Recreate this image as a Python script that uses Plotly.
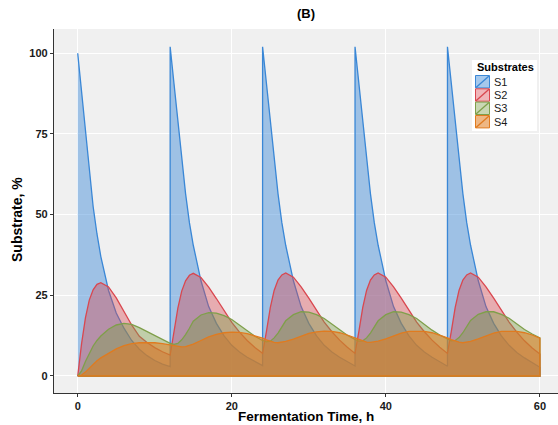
import plotly.graph_objects as go

# Time axis (h); pulse times appear twice (value just before and just after the feed pulse)
time_h = [
    0, 0.5, 1, 1.5, 2, 2.5, 3, 4, 5, 6, 7, 8, 9, 10, 11,
    12, 12, 12.5, 13, 13.5, 14, 14.5, 15, 16, 17, 18, 19, 20, 21, 22, 23,
    24, 24, 24.5, 25, 25.5, 26, 26.5, 27, 28, 29, 30, 31, 32, 33, 34, 35,
    36, 36, 36.5, 37, 37.5, 38, 38.5, 39, 40, 41, 42, 43, 44, 45, 46, 47,
    48, 48, 48.5, 49, 49.5, 50, 50.5, 51, 52, 53, 54, 55, 56, 57, 58, 59,
    60,
]

s1 = [
    100, 87.5, 75.5, 63.5, 52.5, 44, 37, 26.5, 19.5, 14.8, 11, 8.3, 6.3, 4.8, 3.7,
    2.9, 102, 90.5, 78.5, 67, 56.5, 47.5, 40.5, 29.5, 21.5, 16.3, 12.4, 9.5, 7.4, 5.8, 4.4,
    3.2, 102, 90.5, 78.5, 67, 56.5, 47.5, 40.5, 29.5, 21.5, 16.3, 12.4, 9.5, 7.4, 5.8, 4.4,
    3.1, 102, 90.5, 78.5, 67, 56.5, 47.5, 40.5, 29.5, 21.5, 16.3, 12.4, 9.5, 7.4, 5.8, 4.3,
    3.0, 102, 90.5, 78.5, 67, 56.5, 47.5, 40.5, 29.5, 21.5, 16.3, 12.4, 9.5, 7.3, 5.6, 4.1,
    2.7,
]

s2 = [
    0, 10, 18, 23.5, 26.7, 28.4, 28.9, 27.6, 24.2, 20.2, 15.8, 12.3, 10.4, 8.8, 7.5,
    6.5, 6.5, 13.5, 21, 26.3, 29.5, 31.2, 31.8, 30.5, 27.5, 24, 20.2, 16.6, 13.6, 11, 8.8,
    7.0, 7.0, 13.8, 21.2, 26.5, 29.7, 31.3, 31.9, 30.6, 27.6, 24.1, 20.3, 16.7, 13.7, 11.1, 8.9,
    7.0, 7.0, 13.8, 21.2, 26.5, 29.7, 31.3, 31.9, 30.6, 27.6, 24.1, 20.3, 16.7, 13.7, 11.1, 8.9,
    7.0, 7.0, 13.8, 21.2, 26.5, 29.7, 31.3, 31.9, 30.6, 27.6, 24.1, 20.3, 16.7, 13.6, 10.9, 8.7,
    6.8,
]

s3 = [
    0, 1.6, 4.5, 7, 9.3, 11, 12.4, 14.5, 15.8, 16.3, 16, 15, 13.8, 12.5, 11.2,
    10.1, 10.1, 9.8, 10.1, 11.2, 12.8, 14.8, 17, 18.9, 19.6, 19.5, 18.7, 17.5, 15.8, 13.9, 12.3,
    11.0, 11.0, 10.6, 10.8, 11.8, 13.3, 15.2, 17.1, 19, 19.9, 19.8, 19, 17.8, 16, 14.2, 12.6,
    11.3, 11.3, 10.8, 10.9, 11.8, 13.3, 15.2, 17.1, 19, 19.9, 19.8, 19, 17.8, 16, 14.2, 12.7,
    11.4, 11.4, 10.9, 11, 11.9, 13.4, 15.3, 17.2, 19.1, 19.9, 19.9, 19.1, 17.9, 16.2, 14.4, 13,
    11.8,
]

s4 = [
    0, 0.3, 1.2, 2.4, 3.6, 4.7, 5.6, 7.1, 8.4, 9.4, 10, 10.3, 10.4, 10.3, 10,
    9.6, 9.6, 9.3, 9.1, 9.0, 9.1, 9.4, 9.9, 11, 12.1, 12.9, 13.4, 13.6, 13.5, 13.1, 12.5,
    11.7, 11.7, 11.2, 10.7, 10.4, 10.3, 10.4, 10.7, 11.4, 12.4, 13.2, 13.7, 13.9, 13.8, 13.4, 12.7,
    11.8, 11.8, 11.3, 10.8, 10.5, 10.4, 10.5, 10.8, 11.5, 12.5, 13.3, 13.8, 13.9, 13.8, 13.4, 12.7,
    11.8, 11.8, 11.3, 10.8, 10.5, 10.3, 10.4, 10.7, 11.5, 12.5, 13.3, 13.8, 13.9, 13.8, 13.4, 12.7,
    11.7,
]

names = ["S1", "S2", "S3", "S4"]
series = [s1, s2, s3, s4]
line_colors = ["#3a87d6", "#d9474f", "#7f9f4a", "#e07b1f"]
fill_colors = ["rgba(58,135,214,0.45)", "rgba(217,71,79,0.40)",
               "rgba(127,159,74,0.42)", "rgba(224,123,31,0.55)"]

# figure geometry (pixels) used to place the ggplot-style legend inside the panel
W, H = 558, 425
ML, MR, MT, MB = 54, 0, 29, 32
PW, PH = W - ML - MR, H - MT - MB


def px_x(p):
    return (p - ML) / PW


def px_y(p):
    return (H - MB - p) / PH


fig = go.Figure()
for name, vals, lc, fc in zip(names, series, line_colors, fill_colors):
    xs = time_h + [time_h[-1], time_h[0]]
    ys = vals + [0, 0]
    fig.add_trace(go.Scatter(
        x=xs, y=ys, mode="lines", name=name, fill="toself", fillcolor=fc,
        line=dict(color=lc, width=1.3), hoverinfo="skip", showlegend=False,
    ))

FONT = "Liberation Sans, Arial, sans-serif"
bold = dict(family=FONT, size=11, color="#1a1a1a", weight="bold")
axis_common = dict(
    showgrid=True, gridcolor="#ffffff", gridwidth=1.2, zeroline=False,
    showline=True, linecolor="#333333", linewidth=1.2,
    ticks="outside", ticklen=3, tickcolor="#333333", tickwidth=1.2,
    tickfont=bold,
)

# custom legend (box, keys, labels)
shapes = [dict(type="rect", xref="paper", yref="paper",
               x0=px_x(472), x1=px_x(537), y0=px_y(131), y1=px_y(60),
               fillcolor="white", line=dict(width=0), layer="above")]
annotations = [dict(text="<b>Substrates</b>", x=px_x(474.5), y=px_y(67),
                    xref="paper", yref="paper", showarrow=False,
                    xanchor="left", yanchor="middle",
                    font=dict(family=FONT, size=11, color="black"))]
row_y = [81.7, 95, 108.3, 121.7]
for name, lc, fc, ry in zip(names, line_colors, fill_colors, row_y):
    shapes.append(dict(type="rect", xref="paper", yref="paper",
                       x0=px_x(475.5), x1=px_x(489.5), y0=px_y(ry + 6.2), y1=px_y(ry - 6.2),
                       fillcolor=fc, line=dict(color=lc, width=1), layer="above"))
    shapes.append(dict(type="line", xref="paper", yref="paper",
                       x0=px_x(476), x1=px_x(489), y0=px_y(ry + 5.7), y1=px_y(ry - 5.7),
                       line=dict(color=lc, width=1.3), layer="above"))
    annotations.append(dict(text=name, x=px_x(491.5), y=px_y(ry),
                            xref="paper", yref="paper", showarrow=False,
                            xanchor="left", yanchor="middle",
                            font=dict(family=FONT, size=11, color="#1a1a1a")))

annotations += [
    dict(text="<b>(B)</b>", x=0.5, y=px_y(14), xref="paper", yref="paper",
         showarrow=False, font=dict(family=FONT, size=13, color="black"),
         xanchor="center", yanchor="middle"),
    dict(text="<b>Fermentation Time, h</b>", x=0.5, y=px_y(416.5), xref="paper", yref="paper",
         showarrow=False, font=dict(family=FONT, size=13.5, color="black"),
         xanchor="center", yanchor="middle"),
    dict(text="<b>Substrate, %</b>", x=px_x(17), y=px_y(220), xref="paper", yref="paper",
         showarrow=False, font=dict(family=FONT, size=14, color="black"), textangle=-90,
         xanchor="center", yanchor="middle"),
]

fig.update_layout(
    width=W, height=H,
    margin=dict(l=ML, r=MR, t=MT, b=MB),
    paper_bgcolor="white", plot_bgcolor="#f0f0f0",
    font=dict(family=FONT, size=11, color="black"),
    xaxis=dict(range=[-3.08, 62.35], tickvals=[0, 20, 40, 60], **axis_common),
    yaxis=dict(range=[-5.27, 107.5], tickvals=[0, 25, 50, 75, 100], **axis_common),
    showlegend=False,
    shapes=shapes,
    annotations=annotations,
)

fig.write_html("out.html")
